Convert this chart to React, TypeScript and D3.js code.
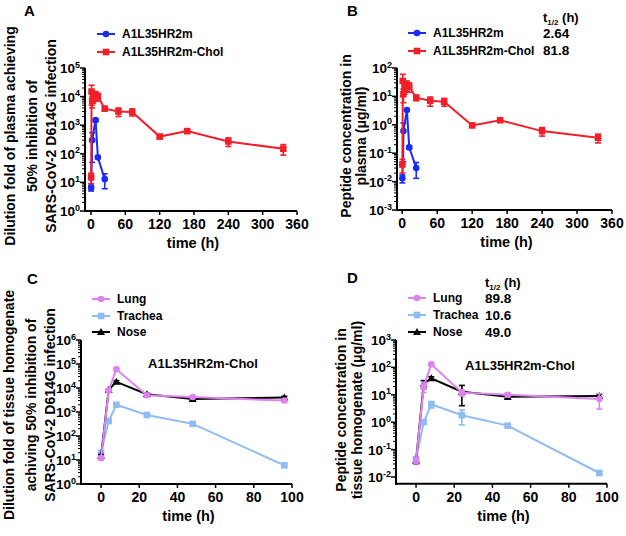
import React from "react";
import * as d3 from "d3";

// ---------- Data ----------
const timesBlue = [0.25, 2, 8, 12, 24];
const timesRed = [0.25, 1, 2, 4, 8, 12, 24, 48, 72, 120, 168, 240, 336];
const timesTissue = [0, 4, 8, 24, 48, 96];

// Panel A: dilution fold (plasma)
const aBlue = [6.5, 300, 1500, 75, 13];
const aBlueSd = [1.5, 250, 150, 8, 7];
const aRed = [15, 15000, 7000, 9000, 11000, 10000, 3800, 3000, 2900, 400, 620, 270, 150];
const aRedSd = [6, 10000, 3000, 3000, 4000, 3000, 600, 1000, 800, 50, 90, 90, 60];

// Panel B: peptide concentration in plasma (ug/ml)
const bBlue = [0.013, 0.6, 3.3, 0.16, 0.03];
const bBlueSd = [0.004, 0.55, 0.3, 0.02, 0.017];
const bRed = [0.04, 35, 12, 20, 25, 22, 9, 7, 6.5, 0.95, 1.45, 0.6, 0.35];
const bRedSd = [0.02, 25, 6, 8, 10, 8, 2, 2.5, 2, 0.1, 0.2, 0.2, 0.12];

// Panel C: dilution fold (tissue homogenate)
const cLung = [12, 8000, 60000, 5000, 4200, 3000];
const cLungSd = [2, 800, 6000, 500, 500, 400];
const cTrachea = [20, 420, 2000, 750, 320, 6];
const cTracheaSd = [3, 60, 250, 80, 40, 0.8];
const cNose = [15, 8500, 18000, 5500, 3500, 4000];
const cNoseSd = [2, 800, 2000, 500, 400, 500];

// Panel D: peptide concentration in tissue homogenate (ug/ml)
const dLung = [0.04, 20, 130, 12, 10, 7];
const dLungSd = [0.01, 8, 15, 3, 1.5, 4];
const dTrachea = [0.045, 1.0, 4.5, 1.8, 0.75, 0.014];
const dTracheaSd = [0.01, 0.1, 1.2, 1.0, 0.1, 0.002];
const dNose = [0.04, 25, 40, 13, 8.5, 9];
const dNoseSd = [0.01, 8, 5, 9, 1.5, 1.5];

const xTicksLong = [0, 60, 120, 180, 240, 300, 360];
const xTicksShort = [0, 20, 40, 60, 80, 100];

const halfLivesPlasma = ["2.64", "81.8"];
const halfLivesTissue = ["89.8", "10.6", "49.0"];

const namesPlasma = ["A1L35HR2m", "A1L35HR2m-Chol"];
const namesTissue = ["Lung", "Trachea", "Nose"];

// ---------- Styles ----------
const BLUE = "#1b2cf2";
const RED = "#f0202a";
const LUNG = "#de82ef";
const TRACHEA = "#8dbdf3";
const NOSE = "#000000";
const FONT = "'Liberation Sans', Arial, Helvetica, sans-serif";

type Marker = "circle" | "square" | "triangle";
type Series = { t: number[]; v: number[]; sd: number[]; color: string; marker: Marker; name: string };

function MarkerShape({ x, y, marker, color }: { x: number; y: number; marker: Marker; color: string }) {
  if (marker === "circle") return <circle cx={x} cy={y} r={3.3} fill={color} />;
  if (marker === "square") return <rect x={x - 3.3} y={y - 3.3} width={6.6} height={6.6} fill={color} />;
  const s = 4;
  return <path d={`M${x},${y - s}L${x + s},${y + s * 0.75}L${x - s},${y + s * 0.75}Z`} fill={color} />;
}

type PanelProps = {
  x0: number; x1: number; xDom: [number, number];
  yTop: number; yBot: number; yDom: [number, number]; yAxisMin: number;
  xTicks: number[];
  series: Series[];
};

function Panel({ x0, x1, xDom, yTop, yBot, yDom, yAxisMin, xTicks, series }: PanelProps) {
  const x = d3.scaleLinear().domain(xDom).range([x0, x1]);
  const y = d3.scaleLog().domain(yDom).range([yBot, yTop]);
  const axisBottom = y(yAxisMin);
  const eMin = Math.round(Math.log10(yDom[0]));
  const eMax = Math.round(Math.log10(yDom[1]));
  const majors: number[] = [];
  const minors: number[] = [];
  for (let e = eMin; e <= eMax; e++) {
    majors.push(e);
    if (e < eMax) for (let k = 2; k <= 9; k++) minors.push(k * Math.pow(10, e));
  }
  const line = d3.line<[number, number]>().x((d) => x(d[0])).y((d) => y(d[1]));
  return (
    <g>
      {series.map((s, i) => {
        const pts = s.t.map((t, j) => [t, s.v[j]] as [number, number]);
        return (
          <g key={i}>
            <path d={line(pts) || ""} fill="none" stroke={s.color} strokeWidth={2} />
            {pts.map((p, j) => {
              const hi = p[1] + s.sd[j];
              let lo = p[1] - s.sd[j];
              if (lo <= yAxisMin) lo = Math.max(p[1] / (1 + s.sd[j] / p[1]), yAxisMin);
              const cx = x(p[0]);
              return (
                <g key={j}>
                  <line x1={cx} x2={cx} y1={y(lo)} y2={y(hi)} stroke={s.color} strokeWidth={1.6} />
                  <line x1={cx - 3} x2={cx + 3} y1={y(lo)} y2={y(lo)} stroke={s.color} strokeWidth={1.6} />
                  <line x1={cx - 3} x2={cx + 3} y1={y(hi)} y2={y(hi)} stroke={s.color} strokeWidth={1.6} />
                  <MarkerShape x={cx} y={y(p[1])} marker={s.marker} color={s.color} />
                </g>
              );
            })}
          </g>
        );
      })}
      {/* y axis */}
      <line x1={x0} x2={x0} y1={yTop} y2={axisBottom + 1} stroke="#000" strokeWidth={2} />
      {majors.map((e) => (
        <g key={"M" + e}>
          <line x1={x0 - 5} x2={x0} y1={y(Math.pow(10, e))} y2={y(Math.pow(10, e))} stroke="#000" strokeWidth={1.5} />
          <text x={x0 - 5} y={y(Math.pow(10, e)) + 5} textAnchor="end" fontSize={13.5} fontWeight="bold" fontFamily={FONT}>
            <tspan>10</tspan>
            <tspan dy={-5.5} fontSize={9}>{String(e)}</tspan>
          </text>
        </g>
      ))}
      {minors.map((m, i) => (
        <line key={"m" + i} x1={x0 - 3} x2={x0} y1={y(m)} y2={y(m)} stroke="#000" strokeWidth={1} />
      ))}
      {/* x axis */}
      <line x1={x0 - 1} x2={x1} y1={axisBottom} y2={axisBottom} stroke="#000" strokeWidth={2} />
      {xTicks.map((t) => (
        <g key={"x" + t}>
          <line x1={x(t)} x2={x(t)} y1={axisBottom} y2={axisBottom + 4} stroke="#000" strokeWidth={1.5} />
          <text x={x(t)} y={axisBottom + 18} textAnchor="middle" fontSize={14} fontWeight="bold" fontFamily={FONT}>
            {t}
          </text>
        </g>
      ))}
      <text x={(x0 + x1) / 2 + 2} y={axisBottom + 37} textAnchor="middle" fontSize={14.5} fontWeight="bold" fontFamily={FONT}>
        time (h)
      </text>
    </g>
  );
}

function Legend({ x, ys, series }: { x: number; ys: number[]; series: Series[] }) {
  return (
    <g>
      {series.map((s, i) => (
        <g key={i}>
          <line x1={x} x2={x + 18} y1={ys[i]} y2={ys[i]} stroke={s.color} strokeWidth={2} />
          <MarkerShape x={x + 9} y={ys[i]} marker={s.marker} color={s.color} />
          <text x={x + 25} y={ys[i] + 4} fontSize={12} fontWeight="bold" fontFamily={FONT}>
            {s.name}
          </text>
        </g>
      ))}
    </g>
  );
}

function YLabel({ cx, cy, lines }: { cx: number[]; cy: number; lines: React.ReactNode[] }) {
  return (
    <g>
      {lines.map((l, i) => (
        <text key={i} transform={`translate(${cx[i]},${cy}) rotate(-90)`} textAnchor="middle" fontSize={14} fontWeight="bold" fontFamily={FONT}>
          {l}
        </text>
      ))}
    </g>
  );
}

function HalfLife({ x, y0, vals, ys }: { x: number; y0: number; vals: string[]; ys: number[] }) {
  return (
    <g fontFamily={FONT} fontWeight="bold">
      <text x={x} y={y0} fontSize={13}>
        <tspan>t</tspan>
        <tspan dy={3} fontSize={8}>1/2</tspan>
        <tspan dy={-3}> (h)</tspan>
      </text>
      {vals.map((v, i) => (
        <text key={i} x={x} y={ys[i] + 5} fontSize={13.5}>
          {v}
        </text>
      ))}
    </g>
  );
}

export default function App() {
  const plasmaA: Series[] = [
    { t: timesBlue, v: aBlue, sd: aBlueSd, color: BLUE, marker: "circle", name: namesPlasma[0] },
    { t: timesRed, v: aRed, sd: aRedSd, color: RED, marker: "square", name: namesPlasma[1] },
  ];
  const plasmaB: Series[] = [
    { t: timesBlue, v: bBlue, sd: bBlueSd, color: BLUE, marker: "circle", name: namesPlasma[0] },
    { t: timesRed, v: bRed, sd: bRedSd, color: RED, marker: "square", name: namesPlasma[1] },
  ];
  const tissueC: Series[] = [
    { t: timesTissue, v: cTrachea, sd: cTracheaSd, color: TRACHEA, marker: "square", name: namesTissue[1] },
    { t: timesTissue, v: cNose, sd: cNoseSd, color: NOSE, marker: "triangle", name: namesTissue[2] },
    { t: timesTissue, v: cLung, sd: cLungSd, color: LUNG, marker: "circle", name: namesTissue[0] },
  ];
  const tissueD: Series[] = [
    { t: timesTissue, v: dTrachea, sd: dTracheaSd, color: TRACHEA, marker: "square", name: namesTissue[1] },
    { t: timesTissue, v: dNose, sd: dNoseSd, color: NOSE, marker: "triangle", name: namesTissue[2] },
    { t: timesTissue, v: dLung, sd: dLungSd, color: LUNG, marker: "circle", name: namesTissue[0] },
  ];
  const legendOrder = (s: Series[]) => [s[2], s[0], s[1]];

  return (
    <svg width={626} height={536} style={{ position: "absolute", left: 0, top: 0, background: "#fff" }} fontFamily={FONT}>
      <rect width={626} height={536} fill="#fff" />
      {/* Panel letters */}
      <text x={24} y={16} fontSize={15} fontWeight="bold">A</text>
      <text x={347} y={16} fontSize={15} fontWeight="bold">B</text>
      <text x={27} y={284} fontSize={15} fontWeight="bold">C</text>
      <text x={347} y={283} fontSize={15} fontWeight="bold">D</text>

      {/* Panel A */}
      <YLabel cx={[15, 37, 56]} cy={136} lines={["Dilution fold of  plasma achieving", "50% inhibition of", "SARS-CoV-2 D614G infection"]} />
      <Panel x0={85} x1={297} xDom={[-10.5, 360]} yTop={68} yBot={211} yDom={[1, 1e5]} yAxisMin={1} xTicks={xTicksLong} series={plasmaA} />
      <Legend x={97} ys={[34, 52]} series={plasmaA} />

      {/* Panel B */}
      <YLabel cx={[351, 366]} cy={136} lines={["Peptide concentration in", "plasma (\u03BCg/ml)"]} />
      <Panel x0={397} x1={612} xDom={[-9, 360]} yTop={68} yBot={210} yDom={[1e-3, 1e2]} yAxisMin={1e-3} xTicks={xTicksLong} series={plasmaB} />
      <Legend x={408} ys={[33, 51]} series={plasmaB} />
      <HalfLife x={543} y0={22} vals={halfLivesPlasma} ys={[33, 50]} />

      {/* Panel C */}
      <YLabel cx={[14, 36, 55]} cy={405} lines={["Dilution fold of  tissue homogenate", "achiving 50% inhibition of", "SARS-CoV-2 D614G infection"]} />
      <Panel x0={81} x1={292} xDom={[-10.5, 100]} yTop={340} yBot={484} yDom={[1, 1e6]} yAxisMin={1} xTicks={xTicksShort} series={tissueC} />
      <Legend x={92} ys={[299, 316, 332]} series={legendOrder(tissueC)} />
      <text x={203} y={368} textAnchor="middle" fontSize={13} fontWeight="bold">A1L35HR2m-Chol</text>

      {/* Panel D */}
      <YLabel cx={[346, 362]} cy={410} lines={["Peptide concentration in", "tissue homogenate (\u03BCg/ml)"]} />
      <Panel x0={396} x1={607} xDom={[-10.5, 100]} yTop={340} yBot={477} yDom={[1e-2, 1e3]} yAxisMin={Math.pow(10, -2.25)} xTicks={xTicksShort} series={tissueD} />
      <Legend x={408} ys={[298, 315, 332]} series={legendOrder(tissueD)} />
      <HalfLife x={485} y0={287} vals={halfLivesTissue} ys={[298, 315, 332]} />
      <text x={520} y={370} textAnchor="middle" fontSize={13} fontWeight="bold">A1L35HR2m-Chol</text>
    </svg>
  );
}
